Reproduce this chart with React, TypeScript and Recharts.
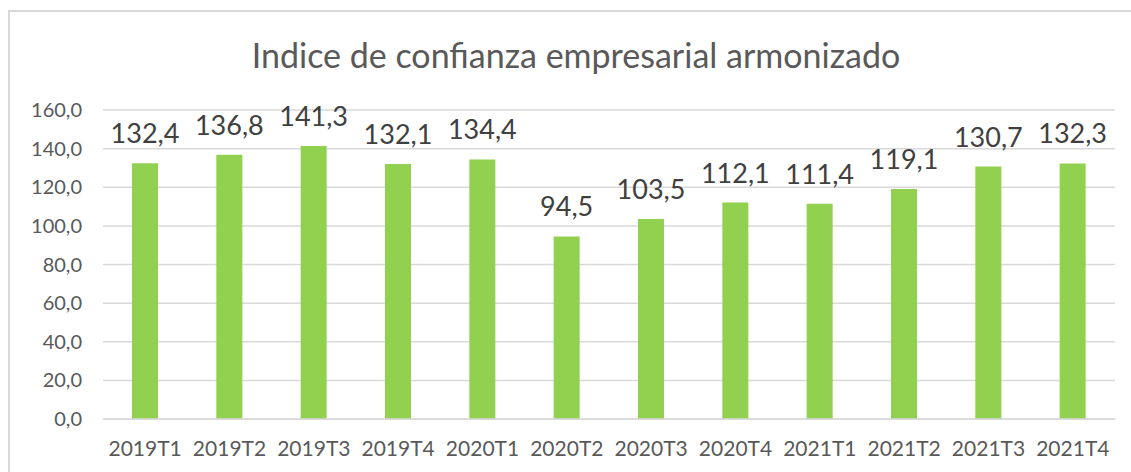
import React from "react";
import { BarChart, Bar, XAxis, YAxis, CartesianGrid, LabelList } from "recharts";

const categories = ["2019T1", "2019T2", "2019T3", "2019T4", "2020T1", "2020T2", "2020T3", "2020T4", "2021T1", "2021T2", "2021T3", "2021T4"];
const values = [132.4, 136.8, 141.3, 132.1, 134.4, 94.5, 103.5, 112.1, 111.4, 119.1, 130.7, 132.3];
const yTicks = [0, 20, 40, 60, 80, 100, 120, 140, 160];
const title = "Indice de confianza empresarial armonizado";

const data = categories.map((c, i) => ({ name: c, value: values[i] }));
const fmt = (v: number) => v.toFixed(1).replace(".", ",");
const FONT = "Lato, 'Open Sans', sans-serif";

export default function App() {
  const W = 1135;
  const H = 462;
  return (
    <div
      style={{
        position: "fixed",
        left: 8,
        top: 10,
        width: W,
        height: H,
        border: "2px solid #d9d9d9",
        background: "#fff",
        fontFamily: FONT,
      }}
    >
      <BarChart
        width={W}
        height={H}
        data={data}
        margin={{ top: 98, right: W - 1105, left: 0, bottom: 25 }}
        barSize={26}
      >
        <text x={566} y={56} textAnchor="middle" fontSize={34} fill="#595959" fontFamily={FONT}>
          {title}
        </text>
        <CartesianGrid vertical={false} stroke="#d9d9d9" strokeWidth={1.5} />
        <XAxis
          dataKey="name"
          axisLine={{ stroke: "#d9d9d9", strokeWidth: 1.5 }}
          tickLine={false}
          tickSize={0}
          tickMargin={22}
          height={30}
          interval={0}
          tick={{ fill: "#595959", fontSize: 21, fontFamily: FONT }}
        />
        <YAxis
          domain={[0, 160]}
          ticks={yTicks}
          width={93}
          axisLine={false}
          tickLine={false}
          tickSize={0}
          tickMargin={21}
          tickFormatter={fmt}
          tick={{ fill: "#595959", fontSize: 20, fontFamily: FONT }}
        />
        <Bar dataKey="value" fill="#92d050" isAnimationActive={false}>
          <LabelList
            dataKey="value"
            position="top"
            offset={20}
            formatter={(v: any) => fmt(Number(v))}
            style={{ fill: "#404040", fontSize: 27, fontFamily: FONT }}
          />
        </Bar>
      </BarChart>
    </div>
  );
}
